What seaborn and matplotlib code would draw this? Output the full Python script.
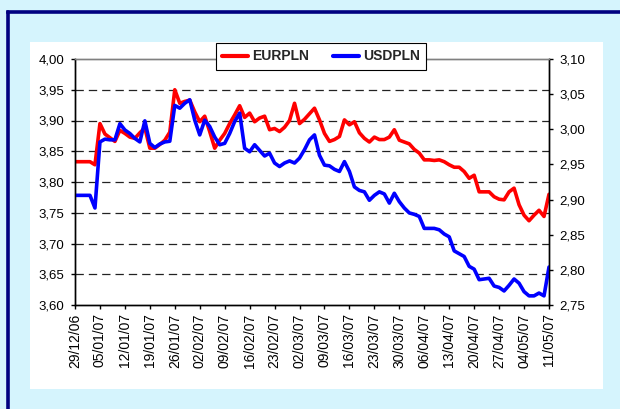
import pandas as pd
import numpy as np
import seaborn as sns
import matplotlib.pyplot as plt
from matplotlib.patches import Rectangle
from matplotlib.lines import Line2D
from matplotlib.ticker import FuncFormatter, MultipleLocator

# daily fixings, 29/12/06 - 11/05/07 (working days)
dates = pd.bdate_range('2006-12-29', '2007-05-11')
date_labels = [d.strftime('%d/%m/%y') for d in dates]

eurpln = [3.833, 3.833, 3.833, 3.833, 3.828, 3.895, 3.878, 3.872, 3.866, 3.884,
          3.879, 3.873, 3.871, 3.880, 3.888, 3.855, 3.855, 3.861, 3.868, 3.881,
          3.950, 3.928, 3.931, 3.933, 3.914, 3.898, 3.907, 3.882, 3.855, 3.868,
          3.879, 3.895, 3.909, 3.924, 3.905, 3.912, 3.898, 3.904, 3.907, 3.885,
          3.887, 3.882, 3.889, 3.900, 3.928, 3.895, 3.902, 3.911, 3.920, 3.901,
          3.879, 3.866, 3.869, 3.874, 3.901, 3.893, 3.898, 3.880, 3.871, 3.865,
          3.873, 3.869, 3.869, 3.873, 3.885, 3.868, 3.865, 3.862, 3.853, 3.847,
          3.836, 3.836, 3.835, 3.836, 3.833, 3.828, 3.824, 3.824, 3.817, 3.806,
          3.811, 3.784, 3.784, 3.784, 3.776, 3.772, 3.771, 3.784, 3.790, 3.763,
          3.746, 3.737, 3.746, 3.754, 3.744, 3.780]

usdpln = [2.906, 2.906, 2.906, 2.906, 2.888, 2.982, 2.986, 2.985, 2.985, 3.008,
          2.999, 2.994, 2.987, 2.982, 3.012, 2.980, 2.974, 2.979, 2.982, 2.983,
          3.034, 3.030, 3.037, 3.042, 3.013, 2.992, 3.013, 3.004, 2.989, 2.978,
          2.980, 2.994, 3.011, 3.023, 2.973, 2.968, 2.978, 2.970, 2.962, 2.966,
          2.952, 2.947, 2.952, 2.955, 2.952, 2.959, 2.971, 2.985, 2.992, 2.963,
          2.949, 2.948, 2.943, 2.940, 2.954, 2.940, 2.918, 2.913, 2.911, 2.899,
          2.906, 2.911, 2.908, 2.895, 2.909, 2.897, 2.888, 2.881, 2.879, 2.876,
          2.859, 2.859, 2.859, 2.857, 2.851, 2.847, 2.827, 2.823, 2.819, 2.805,
          2.801, 2.786, 2.787, 2.788, 2.777, 2.775, 2.770, 2.778, 2.787, 2.781,
          2.769, 2.763, 2.763, 2.767, 2.763, 2.804]

df = pd.DataFrame({'date': date_labels, 'EURPLN': eurpln, 'USDPLN': usdpln})

sns.set_style('white')
plt.rcParams['font.family'] = ['Liberation Sans', 'DejaVu Sans']
plt.rcParams['lines.scale_dashes'] = False

fig = plt.figure(figsize=(6.2, 4.09), dpi=100, facecolor='#D5F4FD')
W, H = 620, 409

# white chart area and navy frame (top and left edges only are in view)
fig.patches.append(Rectangle((30 / W, 1 - 389 / H), 573 / W, 347 / H,
                             transform=fig.transFigure, facecolor='white',
                             edgecolor='none', zorder=-5))
fig.lines.append(Line2D([7.5 / W, 7.5 / W], [0, 1 - 12 / H], transform=fig.transFigure,
                        color='#000080', linewidth=2.6, zorder=-4))
fig.lines.append(Line2D([7.5 / W, 1], [1 - 12 / H, 1 - 12 / H], transform=fig.transFigure,
                        color='#000080', linewidth=2.6, zorder=-4,
                        solid_capstyle='projecting'))

ax = fig.add_axes([75 / W, 1 - 305 / H, 474 / W, 246 / H])
ax.set_facecolor('white')
ax2 = ax.twinx()

sns.lineplot(data=df, x='date', y='EURPLN', ax=ax, color='#FF0000',
             linewidth=2.6, sort=False, label='EURPLN', legend=False)
sns.lineplot(data=df, x='date', y='USDPLN', ax=ax2, color='#0000FF',
             linewidth=2.6, sort=False, label='USDPLN', legend=False)

comma = FuncFormatter(lambda v, p: f'{v:.2f}'.replace('.', ','))

ax.set_ylim(3.60, 4.00)
ax.yaxis.set_major_locator(MultipleLocator(0.05))
ax.yaxis.set_major_formatter(comma)
ax2.set_ylim(2.75, 3.10)
ax2.yaxis.set_major_locator(MultipleLocator(0.05))
ax2.yaxis.set_major_formatter(comma)

ax.set_xlim(0, len(date_labels) - 1)
ticks = list(range(0, len(date_labels), 5))
ax.set_xticks(ticks)
ax.set_xticklabels([date_labels[i] for i in ticks], rotation=90)

for y in np.arange(3.65, 3.96, 0.05):
    ax.axhline(y, color='#222222', linewidth=0.9, linestyle=(0, (6, 3.6)), zorder=0)

ax.set_xlabel('')
ax.set_ylabel('')
ax2.set_ylabel('')

for a in (ax, ax2):
    for s in a.spines.values():
        s.set_color('black')
        s.set_linewidth(1.0)
    a.spines['top'].set_color('#808080')
    a.tick_params(colors='black', length=3, width=1.0, direction='out')
ax.tick_params(axis='y', left=True, pad=4.5, labelsize=9.5)
ax.tick_params(axis='x', bottom=True, pad=3, labelsize=10)
ax2.tick_params(axis='y', right=True, pad=4.5, labelsize=9.5)

h1, l1 = ax.get_legend_handles_labels()
h2, l2 = ax2.get_legend_handles_labels()
leg = fig.legend(h1 + h2, l1 + l2, loc='center', bbox_to_anchor=(321 / W, 1 - 56.5 / H),
                 ncol=2, frameon=True, fancybox=False, edgecolor='black',
                 framealpha=1, handlelength=1.9, handletextpad=0.3, columnspacing=1.7,
                 prop={'weight': 'bold', 'size': 10}, borderpad=0.45)
leg.get_frame().set_linewidth(0.8)
for ln in leg.get_lines():
    ln.set_linewidth(3)

fig.savefig('out.png', dpi=100, facecolor=fig.get_facecolor())
